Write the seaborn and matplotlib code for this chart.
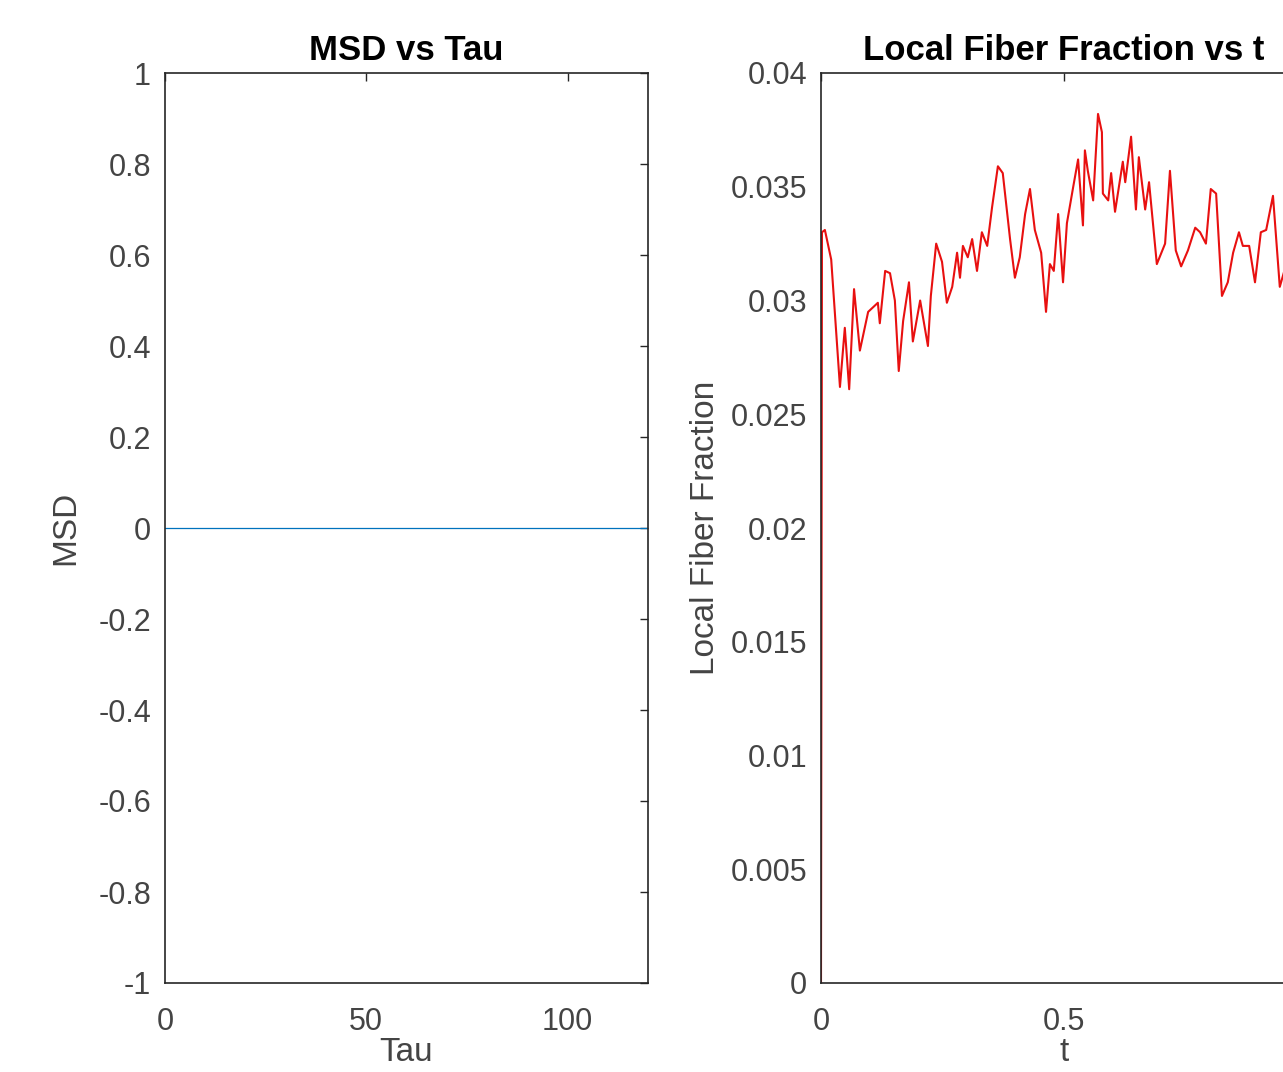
import numpy as np
import pandas as pd
import seaborn as sns
import matplotlib
matplotlib.use('Agg')
import matplotlib.pyplot as plt

# MSD vs Tau (flat zero line)
tau_values = [0, 120]
msd_values = [0.0, 0.0]

# Local fiber fraction vs t
t_values = [0.0, 0.002, 0.008, 0.021, 0.039, 0.049, 0.058, 0.068, 0.080, 0.097,
            0.117, 0.121, 0.132, 0.142, 0.152, 0.160, 0.169, 0.181, 0.189, 0.204,
            0.220, 0.226, 0.237, 0.249, 0.259, 0.270, 0.280, 0.286, 0.292, 0.302,
            0.311, 0.321, 0.331, 0.342, 0.352, 0.364, 0.374, 0.389, 0.399, 0.409,
            0.420, 0.430, 0.440, 0.453, 0.463, 0.471, 0.479, 0.488, 0.498, 0.506,
            0.519, 0.529, 0.539, 0.543, 0.549, 0.560, 0.570, 0.578, 0.580, 0.591,
            0.597, 0.605, 0.621, 0.626, 0.638, 0.648, 0.654, 0.667, 0.675, 0.691,
            0.708, 0.718, 0.730, 0.741, 0.755, 0.770, 0.780, 0.792, 0.802, 0.813,
            0.825, 0.837, 0.848, 0.860, 0.868, 0.881, 0.893, 0.905, 0.916, 0.930,
            0.944, 0.960, 0.980, 1.000]
lff_values = [0.0, 0.0330, 0.0331, 0.0318, 0.0262, 0.0288, 0.0261, 0.0305, 0.0278, 0.0295,
              0.0299, 0.0290, 0.0313, 0.0312, 0.0300, 0.0269, 0.0291, 0.0308, 0.0282, 0.0300,
              0.0280, 0.0302, 0.0325, 0.0317, 0.0299, 0.0306, 0.0321, 0.0310, 0.0324, 0.0319,
              0.0327, 0.0313, 0.0330, 0.0324, 0.0341, 0.0359, 0.0356, 0.0327, 0.0310, 0.0319,
              0.0338, 0.0349, 0.0331, 0.0321, 0.0295, 0.0316, 0.0313, 0.0338, 0.0308, 0.0334,
              0.0350, 0.0362, 0.0333, 0.0366, 0.0357, 0.0344, 0.0382, 0.0374, 0.0347, 0.0344,
              0.0356, 0.0339, 0.0361, 0.0352, 0.0372, 0.0340, 0.0363, 0.0340, 0.0352, 0.0316,
              0.0325, 0.0357, 0.0322, 0.0315, 0.0322, 0.0332, 0.0330, 0.0325, 0.0349, 0.0347,
              0.0302, 0.0308, 0.0321, 0.0330, 0.0324, 0.0324, 0.0308, 0.0330, 0.0331, 0.0346,
              0.0306, 0.0318, 0.0330, 0.0325]

msd_df = pd.DataFrame({'Tau': tau_values, 'MSD': msd_values})
lff_df = pd.DataFrame({'t': t_values, 'Local Fiber Fraction': lff_values})

sns.set_style('white')
plt.rcParams['font.family'] = ['Liberation Sans', 'DejaVu Sans']
axis_color = '#262626'
tick_color = '#444444'

fig = plt.figure(figsize=(12.83, 10.72), dpi=100)
ax1 = fig.add_axes([165 / 1283, 89 / 1072, 483 / 1283, 910 / 1072])
ax2 = fig.add_axes([821 / 1283, 89 / 1072, 486 / 1283, 910 / 1072])

sns.lineplot(x='Tau', y='MSD', data=msd_df, ax=ax1, color=(0, 0.447, 0.741), linewidth=0.9)
sns.lineplot(x='t', y='Local Fiber Fraction', data=lff_df, ax=ax2, color='#e81010', linewidth=1.5)

ax1.set_xlim(0, 120)
ax1.set_ylim(-1, 1)
ax1.set_xticks([0, 50, 100])
ax1.set_yticks(np.arange(-1, 1.01, 0.2))
ax1.set_yticklabels(['-1', '-0.8', '-0.6', '-0.4', '-0.2', '0', '0.2', '0.4', '0.6', '0.8', '1'])

ax2.set_xlim(0, 1)
ax2.set_ylim(0, 0.04)
ax2.set_xticks([0, 0.5, 1])
ax2.set_xticklabels(['0', '0.5', ''])
ax2.set_yticks(np.arange(0, 0.0401, 0.005))
ax2.set_yticklabels(['0', '0.005', '0.01', '0.015', '0.02', '0.025', '0.03', '0.035', '0.04'])

for ax, title in [(ax1, 'MSD vs Tau'), (ax2, 'Local Fiber Fraction vs t')]:
    ax.set_title(title, fontsize=25, fontweight='bold', color='black', pad=9)
    ax.tick_params(direction='in', length=6, width=1, top=True, right=True,
                   labelsize=22, colors=axis_color, labelcolor=tick_color)
    ax.tick_params(axis='y', pad=10)
    ax.tick_params(axis='x', pad=17)
    for spine in ax.spines.values():
        spine.set_color(axis_color)
        spine.set_linewidth(1.2)
    ax.xaxis.label.set_size(24)
    ax.yaxis.label.set_size(24)
    ax.xaxis.label.set_color(tick_color)
    ax.yaxis.label.set_color(tick_color)

ax1.set_ylabel('MSD', labelpad=12)
ax1.set_xlabel('Tau', labelpad=0)
ax2.set_ylabel('Local Fiber Fraction', labelpad=7)
ax2.set_xlabel('t', labelpad=0)

fig.savefig('out.png', dpi=100)
